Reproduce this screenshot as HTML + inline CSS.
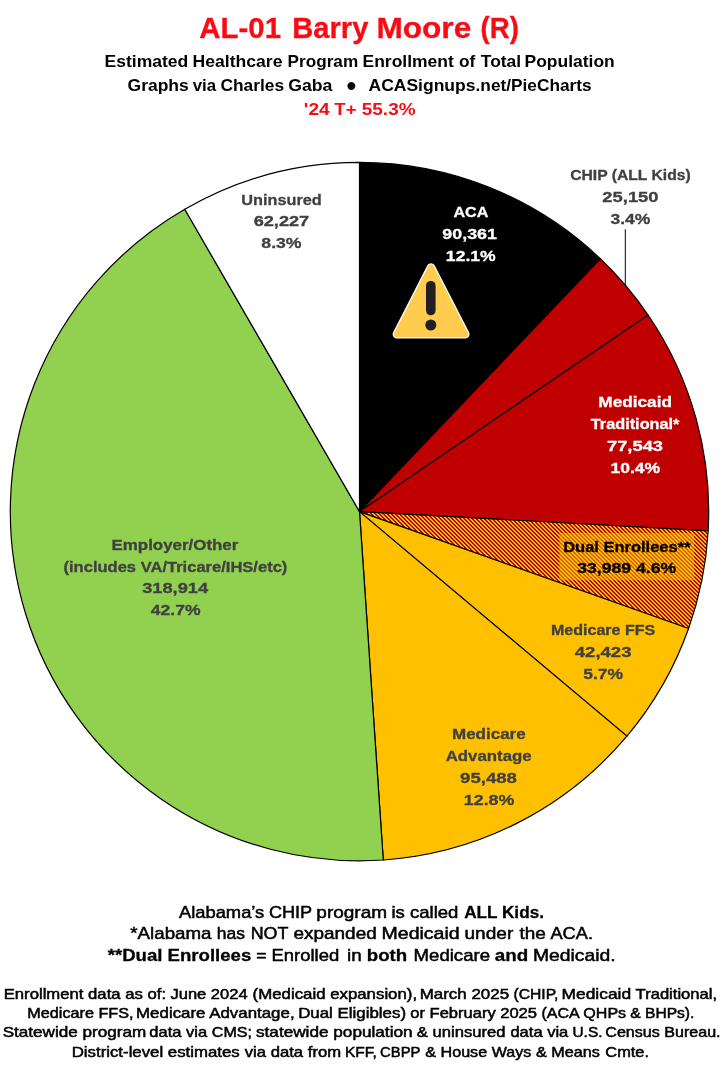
<!DOCTYPE html>
<html lang="en"><head><meta charset="utf-8"><title>AL-01 Barry Moore (R)</title>
<style>
html,body{margin:0;padding:0;background:#fff}
svg{display:block}
text{font-family:"Liberation Sans",sans-serif;white-space:pre}
</style></head><body>
<svg width="720" height="1070" viewBox="0 0 720 1070">
<defs>
<pattern id="hatch" x="3" y="0" width="4" height="4" patternUnits="userSpaceOnUse">
<rect width="4" height="4" fill="#C00000"/>
<g fill="#FFC400" shape-rendering="crispEdges">
<rect x="0" y="0" width="2" height="1"/>
<rect x="1" y="1" width="2" height="1"/>
<rect x="2" y="2" width="2" height="1"/>
<rect x="3" y="3" width="1" height="1"/><rect x="0" y="3" width="1" height="1"/>
</g>
</pattern>
</defs>
<rect width="720" height="1070" fill="#fff"/>
<g stroke="#000" stroke-width="1.2" stroke-linejoin="round">
<path d="M359.5 511.6L359.50 162.40A349.2 349.2 0 0 1 600.32 258.72Z" fill="#000000"/>
<path d="M359.5 511.6L600.32 258.72A349.2 349.2 0 0 1 648.10 315.00Z" fill="#C00000"/>
<path d="M359.5 511.6L648.10 315.00A349.2 349.2 0 0 1 708.17 530.79Z" fill="#C00000"/>
<path d="M359.5 511.6L708.17 530.79A349.2 349.2 0 0 1 688.57 628.46Z" fill="url(#hatch)"/>
<path d="M359.5 511.6L688.57 628.46A349.2 349.2 0 0 1 626.92 736.16Z" fill="#FFC000"/>
<path d="M359.5 511.6L626.92 736.16A349.2 349.2 0 0 1 383.28 859.99Z" fill="#FFC000"/>
<path d="M359.5 511.6L383.28 859.99A349.2 349.2 0 0 1 184.77 209.26Z" fill="#92D050"/>
<path d="M359.5 511.6L184.77 209.26A349.2 349.2 0 0 1 359.50 162.40Z" fill="#FFFFFF"/>
</g>
<line x1="625.3" y1="229.3" x2="625.3" y2="285" stroke="#000" stroke-width="1"/>
<rect x="559.3" y="533" width="134.9" height="47.2" fill="#FFC000" fill-opacity="0.5"/>
<g id="warn">
<path d="M431 267.5 L465.3 334.3 L396.9 334.3 Z" fill="#fff" stroke="#fff" stroke-width="8.5" stroke-linejoin="round"/>
<path d="M431 267.5 L465.3 334.3 L396.9 334.3 Z" fill="#FFCC4D" stroke="#FFCC4D" stroke-width="6" stroke-linejoin="round"/>
<line x1="430.8" y1="285.7" x2="430.8" y2="310.5" stroke="#231F20" stroke-width="9.6" stroke-linecap="round"/>
<circle cx="430.8" cy="325" r="5.5" fill="#231F20"/>
</g>
<text x="199.37" y="38" font-size="30.2" font-weight="bold" fill="#FC0A14" stroke="#FC0A14" stroke-width="0.3" textLength="81.66" lengthAdjust="spacingAndGlyphs">AL-01</text>
<text x="292.34" y="38" font-size="30.2" font-weight="bold" fill="#FC0A14" stroke="#FC0A14" stroke-width="0.3" textLength="76.00" lengthAdjust="spacingAndGlyphs">Barry</text>
<text x="376.46" y="38" font-size="30.2" font-weight="bold" fill="#FC0A14" stroke="#FC0A14" stroke-width="0.3" textLength="94.78" lengthAdjust="spacingAndGlyphs">Moore</text>
<text x="480.56" y="38" font-size="30.2" font-weight="bold" fill="#FC0A14" stroke="#FC0A14" stroke-width="0.3" textLength="38.33" lengthAdjust="spacingAndGlyphs">(R)</text>
<text x="104.53" y="66.7" font-size="17" font-weight="bold" fill="#000000" textLength="83.82" lengthAdjust="spacingAndGlyphs">Estimated</text>
<text x="192.59" y="66.7" font-size="17" font-weight="bold" fill="#000000" textLength="89.86" lengthAdjust="spacingAndGlyphs">Healthcare</text>
<text x="287.62" y="66.7" font-size="17" font-weight="bold" fill="#000000" textLength="70.57" lengthAdjust="spacingAndGlyphs">Program</text>
<text x="362.53" y="66.7" font-size="17" font-weight="bold" fill="#000000" textLength="91.34" lengthAdjust="spacingAndGlyphs">Enrollment</text>
<text x="458.93" y="66.7" font-size="17" font-weight="bold" fill="#000000" textLength="16.31" lengthAdjust="spacingAndGlyphs">of</text>
<text x="480.79" y="66.7" font-size="17" font-weight="bold" fill="#000000" textLength="40.34" lengthAdjust="spacingAndGlyphs">Total</text>
<text x="524.54" y="66.7" font-size="17" font-weight="bold" fill="#000000" textLength="90.21" lengthAdjust="spacingAndGlyphs">Population</text>
<text x="127.55" y="91.3" font-size="17" font-weight="bold" fill="#000000" textLength="61.22" lengthAdjust="spacingAndGlyphs">Graphs</text>
<text x="192.63" y="91.3" font-size="17" font-weight="bold" fill="#000000" textLength="23.41" lengthAdjust="spacingAndGlyphs">via</text>
<text x="220.41" y="91.3" font-size="17" font-weight="bold" fill="#000000" textLength="63.63" lengthAdjust="spacingAndGlyphs">Charles</text>
<text x="288.29" y="91.3" font-size="17" font-weight="bold" fill="#000000" textLength="44.06" lengthAdjust="spacingAndGlyphs">Gaba</text>
<text x="368.49" y="91.3" font-size="17" font-weight="bold" fill="#000000" textLength="107.03" lengthAdjust="spacingAndGlyphs">ACASignups</text>
<text x="475.59" y="91.3" font-size="17" font-weight="bold" fill="#000000" textLength="115.99" lengthAdjust="spacingAndGlyphs">.net/PieCharts</text>
<text x="346.42" y="95" font-size="28.5" font-weight="bold" fill="#000000" textLength="9.72" lengthAdjust="spacingAndGlyphs">•</text>
<text x="303.87" y="115" font-size="17" font-weight="bold" fill="#FC0A14" textLength="25.91" lengthAdjust="spacingAndGlyphs">'24</text>
<text x="334.33" y="115" font-size="17" font-weight="bold" fill="#FC0A14" textLength="22.16" lengthAdjust="spacingAndGlyphs">T+</text>
<text x="361.81" y="115" font-size="17" font-weight="bold" fill="#FC0A14" textLength="53.71" lengthAdjust="spacingAndGlyphs">55.3%</text>
<text x="241.33" y="204.7" font-size="15.2" font-weight="bold" fill="#404040" stroke="#404040" stroke-width="0.3" textLength="80.48" lengthAdjust="spacingAndGlyphs">Uninsured</text>
<text x="253.68" y="226.3" font-size="15.2" font-weight="bold" fill="#404040" stroke="#404040" stroke-width="0.3" textLength="55.52" lengthAdjust="spacingAndGlyphs">62,227</text>
<text x="261.30" y="248.3" font-size="15.2" font-weight="bold" fill="#404040" stroke="#404040" stroke-width="0.3" textLength="40.30" lengthAdjust="spacingAndGlyphs">8.3%</text>
<text x="453.42" y="216.7" font-size="15.2" font-weight="bold" fill="#FFFFFF" stroke="#FFFFFF" stroke-width="0.3" textLength="34.97" lengthAdjust="spacingAndGlyphs">ACA</text>
<text x="442.29" y="238.7" font-size="15.2" font-weight="bold" fill="#FFFFFF" stroke="#FFFFFF" stroke-width="0.3" textLength="54.71" lengthAdjust="spacingAndGlyphs">90,361</text>
<text x="445.89" y="260.5" font-size="15.2" font-weight="bold" fill="#FFFFFF" stroke="#FFFFFF" stroke-width="0.3" textLength="49.76" lengthAdjust="spacingAndGlyphs">12.1%</text>
<text x="570.17" y="179.7" font-size="15.2" font-weight="bold" fill="#404040" stroke="#404040" stroke-width="0.3" textLength="120.58" lengthAdjust="spacingAndGlyphs">CHIP (ALL Kids)</text>
<text x="602.39" y="201.7" font-size="15.2" font-weight="bold" fill="#404040" stroke="#404040" stroke-width="0.3" textLength="56.15" lengthAdjust="spacingAndGlyphs">25,150</text>
<text x="610.41" y="223.6" font-size="15.2" font-weight="bold" fill="#404040" stroke="#404040" stroke-width="0.3" textLength="39.88" lengthAdjust="spacingAndGlyphs">3.4%</text>
<text x="598.35" y="406.6" font-size="15.2" font-weight="bold" fill="#FFFFFF" stroke="#FFFFFF" stroke-width="0.3" textLength="73.64" lengthAdjust="spacingAndGlyphs">Medicaid</text>
<text x="590.79" y="428.6" font-size="15.2" font-weight="bold" fill="#FFFFFF" stroke="#FFFFFF" stroke-width="0.3" textLength="88.67" lengthAdjust="spacingAndGlyphs">Traditional*</text>
<text x="606.93" y="450.6" font-size="15.2" font-weight="bold" fill="#FFFFFF" stroke="#FFFFFF" stroke-width="0.3" textLength="56.13" lengthAdjust="spacingAndGlyphs">77,543</text>
<text x="610.51" y="472.6" font-size="15.2" font-weight="bold" fill="#FFFFFF" stroke="#FFFFFF" stroke-width="0.3" textLength="49.70" lengthAdjust="spacingAndGlyphs">10.4%</text>
<text x="563.16" y="551.5" font-size="15.2" font-weight="bold" fill="#000000" stroke="#000000" stroke-width="0.3" textLength="127.39" lengthAdjust="spacingAndGlyphs">Dual Enrollees**</text>
<text x="577.19" y="572.9" font-size="15.2" font-weight="bold" fill="#000000" stroke="#000000" stroke-width="0.3" textLength="99.10" lengthAdjust="spacingAndGlyphs">33,989 4.6%</text>
<text x="550.92" y="634.7" font-size="15.2" font-weight="bold" fill="#404040" stroke="#404040" stroke-width="0.3" textLength="104.39" lengthAdjust="spacingAndGlyphs">Medicare FFS</text>
<text x="574.77" y="656.7" font-size="15.2" font-weight="bold" fill="#404040" stroke="#404040" stroke-width="0.3" textLength="56.71" lengthAdjust="spacingAndGlyphs">42,423</text>
<text x="583.24" y="678.6" font-size="15.2" font-weight="bold" fill="#404040" stroke="#404040" stroke-width="0.3" textLength="39.75" lengthAdjust="spacingAndGlyphs">5.7%</text>
<text x="452.03" y="738.8" font-size="15.2" font-weight="bold" fill="#404040" stroke="#404040" stroke-width="0.3" textLength="73.68" lengthAdjust="spacingAndGlyphs">Medicare</text>
<text x="445.70" y="760.6" font-size="15.2" font-weight="bold" fill="#404040" stroke="#404040" stroke-width="0.3" textLength="86.01" lengthAdjust="spacingAndGlyphs">Advantage</text>
<text x="460.09" y="782.5" font-size="15.2" font-weight="bold" fill="#404040" stroke="#404040" stroke-width="0.3" textLength="56.86" lengthAdjust="spacingAndGlyphs">95,488</text>
<text x="463.88" y="804.7" font-size="15.2" font-weight="bold" fill="#404040" stroke="#404040" stroke-width="0.3" textLength="50.44" lengthAdjust="spacingAndGlyphs">12.8%</text>
<text x="111.52" y="549.8" font-size="15.2" font-weight="bold" fill="#404040" stroke="#404040" stroke-width="0.3" textLength="126.84" lengthAdjust="spacingAndGlyphs">Employer/Other</text>
<text x="63.50" y="571.6" font-size="15.2" font-weight="bold" fill="#404040" stroke="#404040" stroke-width="0.3" textLength="223.86" lengthAdjust="spacingAndGlyphs">(includes VA/Tricare/IHS/etc)</text>
<text x="142.16" y="593.3" font-size="15.2" font-weight="bold" fill="#404040" stroke="#404040" stroke-width="0.3" textLength="65.96" lengthAdjust="spacingAndGlyphs">318,914</text>
<text x="150.85" y="615.4" font-size="15.2" font-weight="bold" fill="#404040" stroke="#404040" stroke-width="0.3" textLength="49.74" lengthAdjust="spacingAndGlyphs">42.7%</text>
<text x="178.90" y="917.6" font-size="17" font-weight="normal" fill="#000000" stroke="#000000" stroke-width="0.5" textLength="85.42" lengthAdjust="spacingAndGlyphs">Alabama’s</text>
<text x="268.95" y="917.6" font-size="17" font-weight="normal" fill="#000000" stroke="#000000" stroke-width="0.5" textLength="43.27" lengthAdjust="spacingAndGlyphs">CHIP</text>
<text x="316.34" y="917.6" font-size="17" font-weight="normal" fill="#000000" stroke="#000000" stroke-width="0.5" textLength="70.77" lengthAdjust="spacingAndGlyphs">program</text>
<text x="391.51" y="917.6" font-size="17" font-weight="normal" fill="#000000" stroke="#000000" stroke-width="0.5" textLength="66.88" lengthAdjust="spacingAndGlyphs">is called</text>
<text x="464.15" y="917.6" font-size="17" font-weight="bold" fill="#000000" stroke="#000000" stroke-width="0.3" textLength="79.81" lengthAdjust="spacingAndGlyphs">ALL Kids.</text>
<text x="130.33" y="939.4" font-size="17" font-weight="normal" fill="#000000" stroke="#000000" stroke-width="0.5" textLength="81.16" lengthAdjust="spacingAndGlyphs">*Alabama</text>
<text x="216.86" y="939.4" font-size="17" font-weight="normal" fill="#000000" stroke="#000000" stroke-width="0.5" textLength="28.24" lengthAdjust="spacingAndGlyphs">has</text>
<text x="250.65" y="939.4" font-size="17" font-weight="normal" fill="#000000" stroke="#000000" stroke-width="0.5" textLength="37.76" lengthAdjust="spacingAndGlyphs">NOT</text>
<text x="293.53" y="939.4" font-size="17" font-weight="normal" fill="#000000" stroke="#000000" stroke-width="0.5" textLength="83.21" lengthAdjust="spacingAndGlyphs">expanded</text>
<text x="381.51" y="939.4" font-size="17" font-weight="normal" fill="#000000" stroke="#000000" stroke-width="0.5" textLength="78.18" lengthAdjust="spacingAndGlyphs">Medicaid</text>
<text x="464.52" y="939.4" font-size="17" font-weight="normal" fill="#000000" stroke="#000000" stroke-width="0.5" textLength="48.72" lengthAdjust="spacingAndGlyphs">under</text>
<text x="519.50" y="939.4" font-size="17" font-weight="normal" fill="#000000" stroke="#000000" stroke-width="0.5" textLength="26.34" lengthAdjust="spacingAndGlyphs">the</text>
<text x="550.49" y="939.4" font-size="17" font-weight="normal" fill="#000000" stroke="#000000" stroke-width="0.5" textLength="42.48" lengthAdjust="spacingAndGlyphs">ACA.</text>
<text x="107.66" y="960.6" font-size="17" font-weight="bold" fill="#000000" stroke="#000000" stroke-width="0.3" textLength="143.62" lengthAdjust="spacingAndGlyphs">**Dual Enrollees</text>
<text x="256.26" y="960.6" font-size="17" font-weight="normal" fill="#000000" stroke="#000000" stroke-width="0.5" textLength="10.27" lengthAdjust="spacingAndGlyphs">=</text>
<text x="271.57" y="960.6" font-size="17" font-weight="normal" fill="#000000" stroke="#000000" stroke-width="0.5" textLength="67.64" lengthAdjust="spacingAndGlyphs">Enrolled</text>
<text x="347.04" y="960.6" font-size="17" font-weight="normal" fill="#000000" stroke="#000000" stroke-width="0.5" textLength="14.70" lengthAdjust="spacingAndGlyphs">in</text>
<text x="366.79" y="960.6" font-size="17" font-weight="bold" fill="#000000" stroke="#000000" stroke-width="0.3" textLength="40.47" lengthAdjust="spacingAndGlyphs">both</text>
<text x="413.55" y="960.6" font-size="17" font-weight="normal" fill="#000000" stroke="#000000" stroke-width="0.5" textLength="76.49" lengthAdjust="spacingAndGlyphs">Medicare</text>
<text x="494.87" y="960.6" font-size="17" font-weight="bold" fill="#000000" stroke="#000000" stroke-width="0.3" textLength="33.42" lengthAdjust="spacingAndGlyphs">and</text>
<text x="532.95" y="960.6" font-size="17" font-weight="normal" fill="#000000" stroke="#000000" stroke-width="0.5" textLength="82.67" lengthAdjust="spacingAndGlyphs">Medicaid.</text>
<text x="3.70" y="998.5" font-size="14.4" font-weight="normal" fill="#000000" stroke="#000000" stroke-width="0.5" textLength="162.35" lengthAdjust="spacingAndGlyphs">Enrollment data as of:</text>
<text x="170.47" y="998.5" font-size="14.4" font-weight="normal" fill="#000000" stroke="#000000" stroke-width="0.5" textLength="77.10" lengthAdjust="spacingAndGlyphs">June 2024</text>
<text x="252.60" y="998.5" font-size="14.4" font-weight="normal" fill="#000000" stroke="#000000" stroke-width="0.5" textLength="164.50" lengthAdjust="spacingAndGlyphs">(Medicaid expansion),</text>
<text x="419.68" y="998.5" font-size="14.4" font-weight="normal" fill="#000000" stroke="#000000" stroke-width="0.5" textLength="89.38" lengthAdjust="spacingAndGlyphs">March 2025</text>
<text x="513.44" y="998.5" font-size="14.4" font-weight="normal" fill="#000000" stroke="#000000" stroke-width="0.5" textLength="44.98" lengthAdjust="spacingAndGlyphs">(CHIP,</text>
<text x="561.53" y="998.5" font-size="14.4" font-weight="normal" fill="#000000" stroke="#000000" stroke-width="0.5" textLength="69.64" lengthAdjust="spacingAndGlyphs">Medicaid</text>
<text x="635.61" y="998.5" font-size="14.4" font-weight="normal" fill="#000000" stroke="#000000" stroke-width="0.5" textLength="81.47" lengthAdjust="spacingAndGlyphs">Traditional,</text>
<text x="27.28" y="1017.7" font-size="14.4" font-weight="normal" fill="#000000" stroke="#000000" stroke-width="0.5" textLength="106.30" lengthAdjust="spacingAndGlyphs">Medicare FFS,</text>
<text x="136.07" y="1017.7" font-size="14.4" font-weight="normal" fill="#000000" stroke="#000000" stroke-width="0.5" textLength="158.52" lengthAdjust="spacingAndGlyphs">Medicare Advantage,</text>
<text x="298.17" y="1017.7" font-size="14.4" font-weight="normal" fill="#000000" stroke="#000000" stroke-width="0.5" textLength="107.90" lengthAdjust="spacingAndGlyphs">Dual Eligibles)</text>
<text x="410.37" y="1017.7" font-size="14.4" font-weight="normal" fill="#000000" stroke="#000000" stroke-width="0.5" textLength="85.29" lengthAdjust="spacingAndGlyphs">or February</text>
<text x="500.15" y="1017.7" font-size="14.4" font-weight="normal" fill="#000000" stroke="#000000" stroke-width="0.5" textLength="36.96" lengthAdjust="spacingAndGlyphs">2025</text>
<text x="541.46" y="1017.7" font-size="14.4" font-weight="normal" fill="#000000" stroke="#000000" stroke-width="0.5" textLength="84.67" lengthAdjust="spacingAndGlyphs">(ACA QHPs</text>
<text x="630.28" y="1017.7" font-size="14.4" font-weight="normal" fill="#000000" stroke="#000000" stroke-width="0.5" textLength="64.12" lengthAdjust="spacingAndGlyphs">&amp; BHPs).</text>
<text x="2.65" y="1036.9" font-size="14.4" font-weight="normal" fill="#000000" stroke="#000000" stroke-width="0.5" textLength="143.56" lengthAdjust="spacingAndGlyphs">Statewide program</text>
<text x="149.29" y="1036.9" font-size="14.4" font-weight="normal" fill="#000000" stroke="#000000" stroke-width="0.5" textLength="57.80" lengthAdjust="spacingAndGlyphs">data via</text>
<text x="211.84" y="1036.9" font-size="14.4" font-weight="normal" fill="#000000" stroke="#000000" stroke-width="0.5" textLength="40.10" lengthAdjust="spacingAndGlyphs">CMS;</text>
<text x="256.01" y="1036.9" font-size="14.4" font-weight="normal" fill="#000000" stroke="#000000" stroke-width="0.5" textLength="156.57" lengthAdjust="spacingAndGlyphs">statewide population</text>
<text x="416.85" y="1036.9" font-size="14.4" font-weight="normal" fill="#000000" stroke="#000000" stroke-width="0.5" textLength="88.67" lengthAdjust="spacingAndGlyphs">&amp; uninsured</text>
<text x="510.42" y="1036.9" font-size="14.4" font-weight="normal" fill="#000000" stroke="#000000" stroke-width="0.5" textLength="57.90" lengthAdjust="spacingAndGlyphs">data via</text>
<text x="572.46" y="1036.9" font-size="14.4" font-weight="normal" fill="#000000" stroke="#000000" stroke-width="0.5" textLength="30.01" lengthAdjust="spacingAndGlyphs">U.S.</text>
<text x="605.33" y="1036.9" font-size="14.4" font-weight="normal" fill="#000000" stroke="#000000" stroke-width="0.5" textLength="115.26" lengthAdjust="spacingAndGlyphs">Census Bureau.</text>
<text x="71.71" y="1056.7" font-size="14.4" font-weight="normal" fill="#000000" stroke="#000000" stroke-width="0.5" textLength="168.06" lengthAdjust="spacingAndGlyphs">District-level estimates</text>
<text x="244.75" y="1056.7" font-size="14.4" font-weight="normal" fill="#000000" stroke="#000000" stroke-width="0.5" textLength="96.34" lengthAdjust="spacingAndGlyphs">via data from</text>
<text x="344.96" y="1056.7" font-size="14.4" font-weight="normal" fill="#000000" stroke="#000000" stroke-width="0.5" textLength="31.78" lengthAdjust="spacingAndGlyphs">KFF,</text>
<text x="380.07" y="1056.7" font-size="14.4" font-weight="normal" fill="#000000" stroke="#000000" stroke-width="0.5" textLength="40.33" lengthAdjust="spacingAndGlyphs">CBPP</text>
<text x="425.27" y="1056.7" font-size="14.4" font-weight="normal" fill="#000000" stroke="#000000" stroke-width="0.5" textLength="61.89" lengthAdjust="spacingAndGlyphs">&amp; House</text>
<text x="491.77" y="1056.7" font-size="14.4" font-weight="normal" fill="#000000" stroke="#000000" stroke-width="0.5" textLength="39.39" lengthAdjust="spacingAndGlyphs">Ways</text>
<text x="536.02" y="1056.7" font-size="14.4" font-weight="normal" fill="#000000" stroke="#000000" stroke-width="0.5" textLength="63.76" lengthAdjust="spacingAndGlyphs">&amp; Means</text>
<text x="605.32" y="1056.7" font-size="14.4" font-weight="normal" fill="#000000" stroke="#000000" stroke-width="0.5" textLength="43.73" lengthAdjust="spacingAndGlyphs">Cmte.</text>
</svg>
</body></html>
